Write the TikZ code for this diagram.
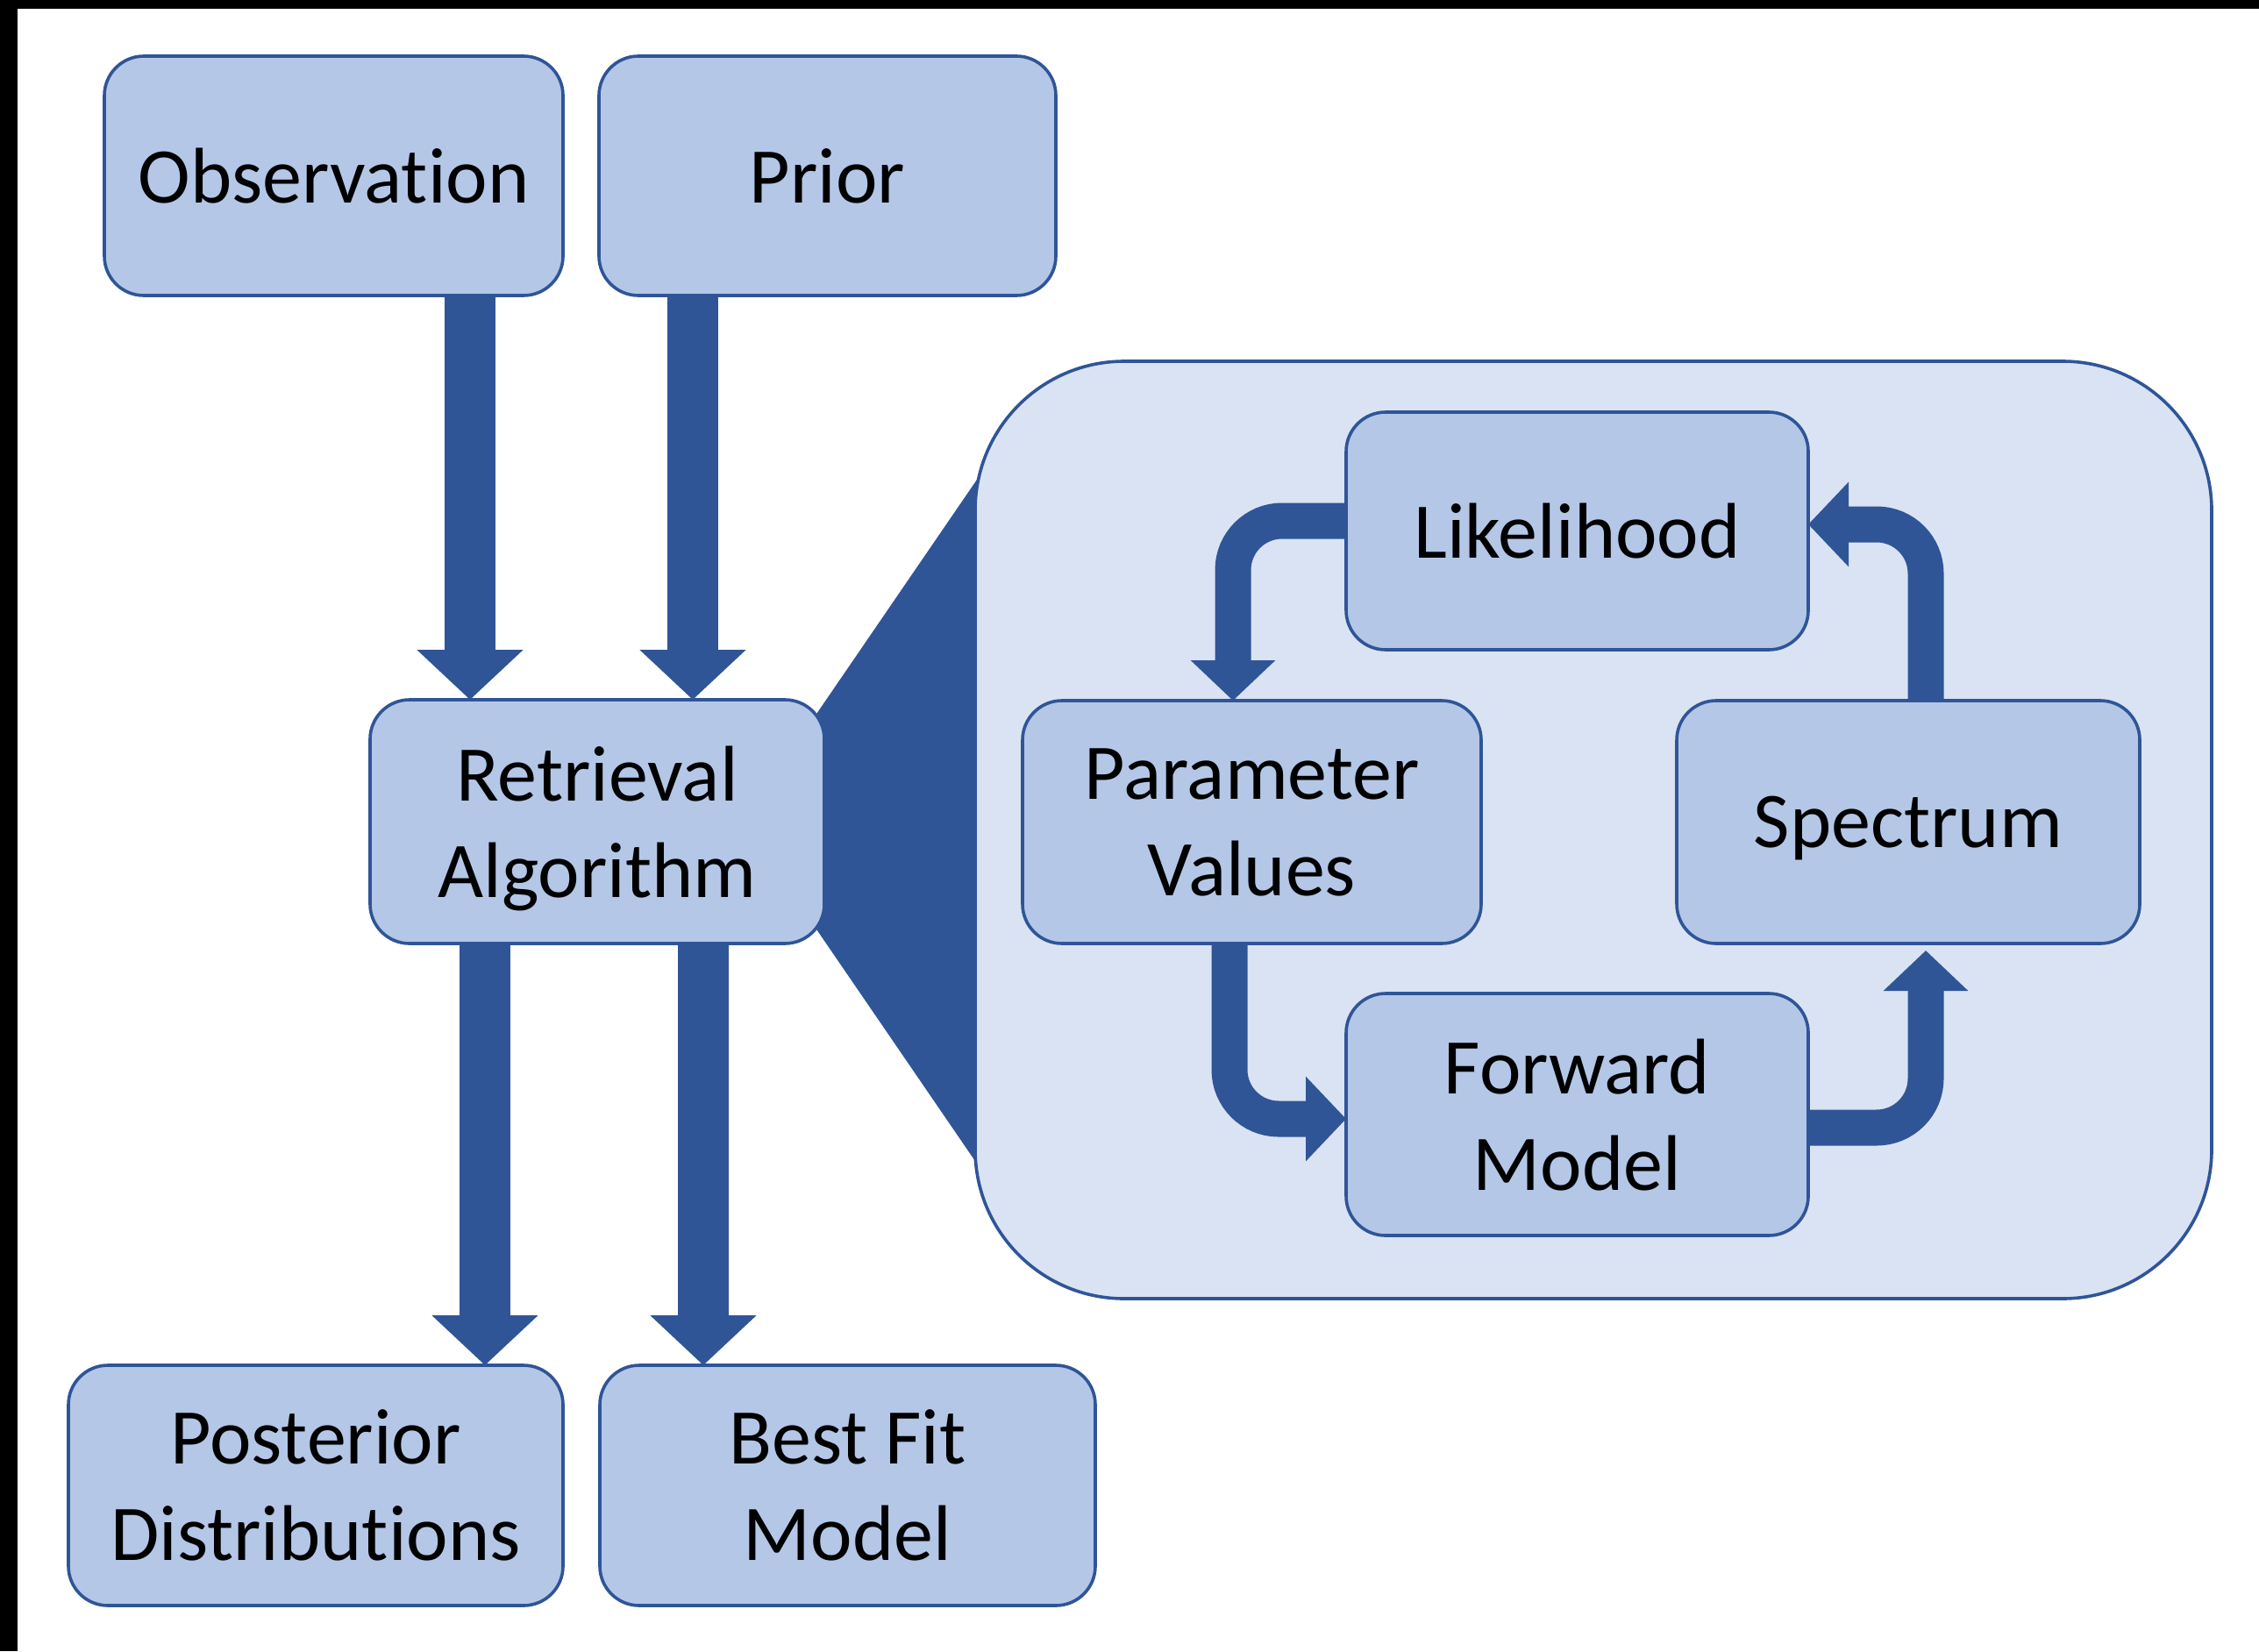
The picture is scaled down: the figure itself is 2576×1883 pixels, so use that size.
\documentclass[tikz,border=0pt]{standalone}
\usepackage{fontspec}
\setmainfont{Carlito}[Ligatures={NoCommon}]
\usetikzlibrary{arrows.meta}
\definecolor{boxfill}{HTML}{B4C7E7}
\definecolor{panelfill}{HTML}{DAE3F3}
\definecolor{edge}{HTML}{2F5597}
\pgfdeclarelayer{back}
\pgfdeclarelayer{mid}
\pgfsetlayers{back,mid,main}

\begin{document}
\begin{tikzpicture}[x=0.25pt,y=-0.25pt,
  box/.style={draw=edge, fill=boxfill, line width=0.9pt, rounded corners=11.25pt,
    inner sep=0pt, outer sep=0pt, align=center, text depth=0pt,
    font=\fontsize{22.5pt}{27.5pt}\selectfont},
  sz/.style 2 args={minimum width={#1*0.25pt}, minimum height={#2*0.25pt}},
  bigarrow/.style={draw=edge, line width=14.5pt,
    -{Triangle[width=29.5pt,length=14.25pt]}},
  looparrow/.style={draw=edge, line width=10.25pt, rounded corners=14pt,
    -{Triangle[width=23.5pt,length=11.5pt]}},
]
\useasboundingbox (0,0) rectangle (2576,1883);

% outer column
\node[box, sz={523}{273}] (obs)   at (380.5,200.5) {Observation};
\node[box, sz={521}{273}] (prior) at (943.5,200.5) {Prior};
\node[box, sz={518}{278}] (ret)   at (681,937)     {Retrieval\\Algorithm};
\node[box, sz={564}{274}] (post)  at (360,1694)    {Posterior\\Distributions};
\node[box, sz={565}{274}] (best)  at (966.5,1694)  {Best Fit\\Model};

% inner loop
\node[box, sz={527}{271}] (lik)   at (1798.5,605.5) {Likelihood};
\node[box, sz={523}{277}] (param) at (1427.5,937.5) {Parameter\\Values};
\node[box, sz={528}{277}] (spec)  at (2176,937.5)   {Spectrum};
\node[box, sz={527}{276}] (fwd)   at (1798.5,1271)  {Forward\\Model};

% lanes of the arrows
\coordinate (xo) at (536,0);
\coordinate (xp) at (790,0);
\coordinate (xq) at (553,0);
\coordinate (xb) at (802,0);
\coordinate (lp) at (1406,594);
\coordinate (pf) at (1402,1276);
\coordinate (fs) at (2196,1286);
\coordinate (sl) at (2196,598);

\begin{pgfonlayer}{back}
  \fill[white] (0,0) rectangle (2576,1883);
  \fill[black] (0,0) rectangle (20,1883);
  \fill[black] (0,0) rectangle (2576,10);
  % zoom wedge from the algorithm box to the panel
  \fill[edge] (925,823) -- (1140,509) -- (1140,1365) -- (925,1051) -- cycle;
  \node[draw=edge, fill=panelfill, line width=0.9pt, rounded corners=42.5pt,
    inner sep=0pt, outer sep=0pt, sz={1410}{1069}] (panel) at (1817,946.5) {};
\end{pgfonlayer}

\begin{pgfonlayer}{mid}
  \draw[bigarrow] (obs.south -| xo) -- (ret.north -| xo);
  \draw[bigarrow] (prior.south -| xp) -- (ret.north -| xp);
  \draw[bigarrow] (ret.south -| xq) -- (post.north -| xq);
  \draw[bigarrow] (ret.south -| xb) -- (best.north -| xb);

  \draw[looparrow] (lik.west |- lp) -| (param.north -| lp);
  \draw[looparrow] (param.south -| pf) |- (fwd.west |- pf);
  \draw[looparrow, shorten >=2pt] (fwd.east |- fs) -| (spec.south -| fs);
  \draw[looparrow] (spec.north -| sl) |- (lik.east |- sl);
\end{pgfonlayer}
\end{tikzpicture}
\end{document}
